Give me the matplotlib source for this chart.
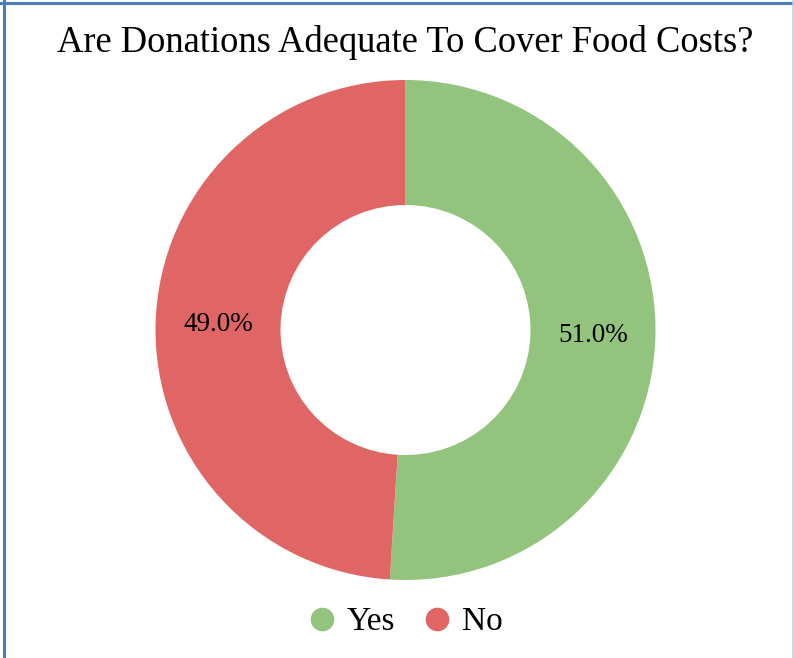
import matplotlib
matplotlib.use("Agg")
import matplotlib.pyplot as plt
from matplotlib.lines import Line2D

labels = ["Yes", "No"]
shares = [51.0, 49.0]
colors = ["#93c47d", "#e06666"]
title = "Are Donations Adequate To Cover Food Costs?"

plt.rcParams["font.family"] = ["Liberation Serif", "DejaVu Serif"]

W, H = 794, 658
fig = plt.figure(figsize=(W / 100, H / 100), dpi=100)

# donut centred at (405, 330) px, radius 250 px
cx, cy, r = 405.5, 330, 250
ax = fig.add_axes([(cx - r) / W, (H - cy - r) / H, 2 * r / W, 2 * r / H])
wedges, texts, autotexts = ax.pie(
    shares, colors=colors, startangle=90, counterclock=False,
    autopct="%.1f%%", pctdistance=0.75,
    wedgeprops=dict(width=0.5, linewidth=0),
    textprops=dict(fontsize=19.5, color="black"))
ax.set_xlim(-1, 1)
ax.set_ylim(-1, 1)

fig.text(cx / W, 1 - 42 / H, title, ha="center", va="center", fontsize=26.3)

handles = [Line2D([], [], marker="o", linestyle="", markersize=16,
                  markerfacecolor=c, markeredgecolor=c) for c in colors]
fig.legend(handles, labels, loc="center", bbox_to_anchor=(cx / W, 1 - 622 / H),
           ncol=2, frameon=False, fontsize=24, handletextpad=0.35,
           columnspacing=0.86, handlelength=0.8)

# frame around the chart
fig.add_artist(Line2D([0, 1], [1 - 2.5 / H] * 2, color="#4a7ebb", lw=2.2,
                      transform=fig.transFigure))
fig.add_artist(Line2D([4 / W] * 2, [0, 1], color="#4a7ebb", lw=2.2,
                      transform=fig.transFigure))
fig.add_artist(Line2D([792.5 / W] * 2, [0, 1], color="#c5d0e0", lw=1.2,
                      transform=fig.transFigure))

fig.savefig("out.png", dpi=100)
